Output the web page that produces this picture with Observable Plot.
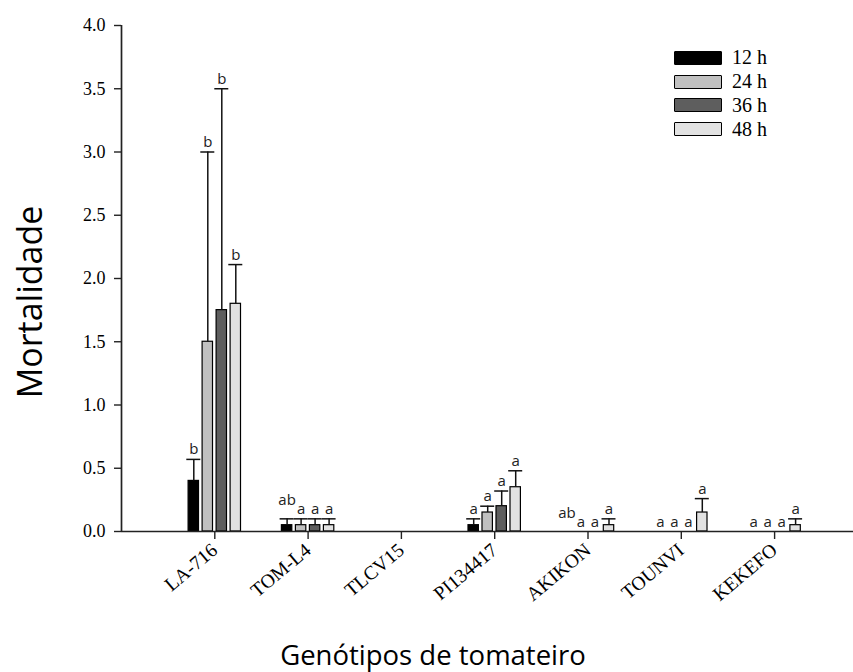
<!DOCTYPE html>
<html>
<head>
<meta charset="utf-8">
<script src="https://cdn.jsdelivr.net/npm/d3@7"></script>
<script src="https://cdn.jsdelivr.net/npm/@observablehq/plot@0.6"></script>
<style>
  body { margin: 0; background: #fff; }
  #wrap { position: relative; width: 853px; height: 672px; overflow: hidden; }
  #legend { position: absolute; left: 674px; top: 46px; font-family: "Liberation Serif", serif; font-size: 20px; color: #000; }
  .row { display: flex; align-items: center; height: 23.8px; }
  .sw { width: 46px; height: 12px; border: 1px solid #000; border-radius: 1px; margin-right: 10px; }
  .title { position: absolute; font-family: "Open Sans", sans-serif; color: #000; white-space: nowrap; line-height: 1; }
  #ytitle { left: 29px; top: 302px; font-size: 34px; transform: translate(-50%, -50%) rotate(-90deg); }
  #xtitle { left: 433px; top: 655px; font-size: 27.5px; transform: translate(-50%, -50%); }
</style>
</head>
<body>
<div id="wrap">
  <div id="legend"></div>
  <div class="title" id="ytitle">Mortalidade</div>
  <div class="title" id="xtitle">Genótipos de tomateiro</div>
</div>
<script>
const genotypes = ["LA-716", "TOM-L4", "TLCV15", "PI134417", "AKIKON", "TOUNVI", "KEKEFO"];
const series = ["12 h", "24 h", "36 h", "48 h"];
const colors = ["#000000", "#c0c0c0", "#5e5e5e", "#e2e2e2"];

const mean12 = [0.40, 0.05, 0, 0.05, 0, 0, 0];
const mean24 = [1.50, 0.05, 0, 0.15, 0, 0, 0];
const mean36 = [1.75, 0.05, 0, 0.20, 0, 0, 0];
const mean48 = [1.80, 0.05, 0, 0.35, 0.05, 0.15, 0.05];

const err12 = [0.17, 0.05, 0, 0.05, 0, 0, 0];
const err24 = [1.50, 0.05, 0, 0.05, 0, 0, 0];
const err36 = [1.75, 0.05, 0, 0.12, 0, 0, 0];
const err48 = [0.31, 0.05, 0, 0.13, 0.05, 0.11, 0.05];

const let12 = ["b", "ab", "", "a", "ab", "a", "a"];
const let24 = ["b", "a", "", "a", "a", "a", "a"];
const let36 = ["b", "a", "", "a", "a", "a", "a"];
const let48 = ["b", "a", "", "a", "a", "a", "a"];

const yTicks = [0, 0.5, 1.0, 1.5, 2.0, 2.5, 3.0, 3.5, 4.0];

const means = [mean12, mean24, mean36, mean48];
const errs = [err12, err24, err36, err48];
const lets = [let12, let24, let36, let48];

const step = 93.3;               // px per category
const offsets = [-1.5, -0.5, 0.5, 1.5].map(k => k * 14 / step);
const half = 5.2 / step;
const capHalf = 7 / step;

const rows = [];
series.forEach((s, k) => {
  genotypes.forEach((g, i) => {
    rows.push({
      pos: i + 1 + offsets[k],
      value: means[k][i],
      err: errs[k][i],
      letter: lets[k][i],
      color: colors[k],
      series: s
    });
  });
});
const errRows = rows.filter(d => d.err > 0);
const letterRows = rows.filter(d => d.letter !== "");

const chart = Plot.plot({
  width: 853,
  height: 672,
  marginLeft: 121,
  marginRight: 0,
  marginTop: 25,
  marginBottom: 141,
  x: {type: "linear", domain: [0, 8], range: [121, 121 + 8 * step]},
  y: {domain: [0, 4]},
  style: {fontFamily: "Liberation Serif, serif", fontSize: "16px", color: "#000", background: "#fff"},
  marks: [
    Plot.rect(rows, {
      x1: d => d.pos - half, x2: d => d.pos + half,
      y1: 0, y2: "value",
      fill: d => d.color, stroke: "#000", strokeWidth: 1.2
    }),
    Plot.ruleX(errRows, {x: "pos", y1: "value", y2: d => d.value + d.err, stroke: "#111", strokeWidth: 1.5}),
    Plot.ruleY(errRows, {y: d => d.value + d.err, x1: d => d.pos - capHalf, x2: d => d.pos + capHalf, stroke: "#111", strokeWidth: 1.5}),
    Plot.text(letterRows.filter(d => d.letter !== "ab"), {
      x: "pos", y: d => d.value + d.err, text: "letter",
      lineAnchor: "bottom", dy: -5, fontFamily: "Open Sans", fontSize: 15, fill: "#222"
    }),
    Plot.text(letterRows.filter(d => d.letter === "ab"), {
      x: "pos", y: d => d.value + d.err, text: "letter",
      lineAnchor: "bottom", dy: -14, fontFamily: "Open Sans", fontSize: 15, fill: "#222"
    }),
    Plot.ruleY([0], {stroke: "#222", strokeWidth: 1.7}),
    Plot.ruleX([0], {y1: 0, y2: 4, stroke: "#222", strokeWidth: 1.7}),
    Plot.axisY({ticks: yTicks, tickFormat: d => d.toFixed(1), tickSize: 7, tickPadding: 9, label: null, stroke: "#222", strokeWidth: 1.4, fontSize: 18}),
    Plot.axisX({ticks: d3.range(1, genotypes.length + 1), tickFormat: i => genotypes[i - 1], tickRotate: -40, tickSize: 8, tickPadding: 8, label: null, stroke: "#222", strokeWidth: 1.4, fontSize: 19.5})
  ]
});
document.getElementById("wrap").prepend(chart);

const legend = document.getElementById("legend");
series.forEach((s, k) => {
  const row = document.createElement("div");
  row.className = "row";
  const sw = document.createElement("div");
  sw.className = "sw";
  sw.style.background = colors[k];
  const label = document.createElement("span");
  label.textContent = s;
  row.appendChild(sw);
  row.appendChild(label);
  legend.appendChild(row);
});
</script>
</body>
</html>
